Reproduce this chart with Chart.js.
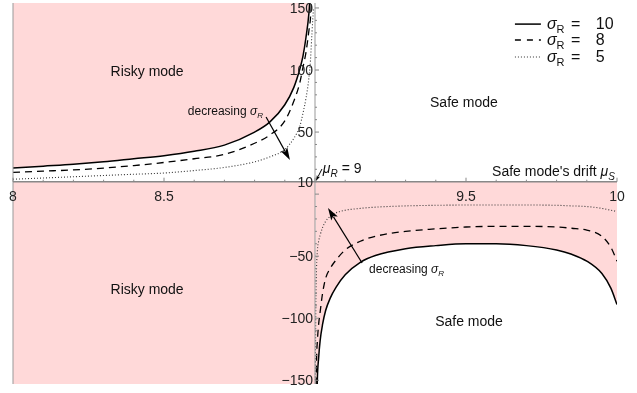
<!DOCTYPE html>
<html>
<head>
<meta charset="utf-8">
<script src="https://cdn.jsdelivr.net/npm/chart.js@4/dist/chart.umd.min.js"></script>
<style>
  html, body { margin: 0; padding: 0; background: #fff; }
  canvas { display: block; }
</style>
</head>
<body>
<canvas id="chart" width="637" height="393"></canvas>
<script>
// Left part: safe mode's drift below mu_R = 9
const upperMu      = [8, 8.1, 8.2, 8.3, 8.4, 8.5, 8.6, 8.7, 8.8, 8.85, 8.9, 8.93, 8.95, 8.96, 8.97, 8.98, 8.985, 8.99, 8.995];
const upperSigma10 = [21, 22.5, 24, 26, 28.5, 31, 34.5, 39.5, 50, 58, 72, 86, 101, 111, 126, 146, 165, 190, 230];
const upperSigma8  = [17.5, 18.5, 19.5, 21, 23, 25.5, 28.5, 32, 41, 47.5, 59, 75, 90, 102, 114, 132, 142, 165, 200];
const upperSigma5  = [12, 13, 14, 15, 16, 17, 19, 21.5, 26, 30, 36, 45, 55, 65, 77, 94, 108, 130, 150];

// Right part: safe mode's drift above mu_R = 9
const lowerMu      = [9.001, 9.003, 9.005, 9.008, 9.012, 9.017, 9.025, 9.035, 9.05, 9.07, 9.1, 9.15, 9.2, 9.3, 9.4, 9.5, 9.6, 9.7, 9.8, 9.85, 9.9, 9.95, 9.98, 10];
const lowerSigma10 = [-400, -250, -185, -148, -132, -118, -105, -94, -84, -75, -65, -55, -49.5, -44, -41.5, -40, -40, -41.5, -45, -48.5, -54, -64, -76, -89];
const lowerSigma8  = [-260, -175, -135, -118, -105, -95, -80, -68, -60, -53, -45, -38, -34, -30, -28, -26.5, -26, -26, -26.5, -27.5, -29, -34, -43, -54];
const lowerSigma5  = [-150, -85, -60, -45, -38, -33, -27, -22, -18, -15, -13, -11.5, -10.5, -9.5, -9, -8.8, -8.8, -8.8, -9, -9.5, -10, -11.5, -13, -14];

const riskyBandMu  = [8, 9];
const riskyBandTop = [10, 10];

const xTicks = [8, 8.5, 9.5, 10];
const yTicks = [150, 100, 50, 10, -50, -100, -150];
const legendLabels = ['10', '8', '5'];

const PINK = 'rgb(255,217,217)';
const FONT = '"Liberation Sans", Arial, sans-serif';

const pts = (xs, ys) => xs.map((x, i) => ({ x, y: ys[i] }));

const lineStyles = [
  { color: '#000', width: 1.5, dash: [] },
  { color: '#000', width: 1.3, dash: [7, 5] },
  { color: '#333', width: 1.1, dash: [1, 2] }
];

// draws text made of pieces: [text, kind], kind: '' normal, 'i' italic, 's' subscript, 'si' italic subscript
function rich(ctx, parts, x, y, size, align) {
  const fontFor = k => {
    const sub = k.indexOf('s') >= 0;
    const it  = k.indexOf('i') >= 0;
    return (it ? 'italic ' : '') + Math.round(sub ? size * 0.72 : size) + 'px ' + FONT;
  };
  let w = 0;
  parts.forEach(([t, k]) => { ctx.font = fontFor(k); w += ctx.measureText(t).width; });
  let cx = align === 'center' ? x - w / 2 : align === 'right' ? x - w : x;
  ctx.textAlign = 'left';
  ctx.textBaseline = 'alphabetic';
  parts.forEach(([t, k]) => {
    ctx.font = fontFor(k);
    const dy = k.indexOf('s') >= 0 ? size * 0.28 : 0;
    ctx.fillText(t, cx, y + dy);
    cx += ctx.measureText(t).width;
  });
}

function arrow(ctx, x1, y1, x2, y2, head) {
  const a = Math.atan2(y2 - y1, x2 - x1);
  ctx.beginPath();
  ctx.moveTo(x1, y1);
  ctx.lineTo(x2 - Math.cos(a) * head * 0.8, y2 - Math.sin(a) * head * 0.8);
  ctx.stroke();
  ctx.beginPath();
  ctx.moveTo(x2, y2);
  ctx.lineTo(x2 - head * Math.cos(a - 0.3), y2 - head * Math.sin(a - 0.3));
  ctx.lineTo(x2 - head * 0.75 * Math.cos(a), y2 - head * 0.75 * Math.sin(a));
  ctx.lineTo(x2 - head * Math.cos(a + 0.3), y2 - head * Math.sin(a + 0.3));
  ctx.closePath();
  ctx.fill();
}

const axesAndNotes = {
  id: 'axesAndNotes',
  afterDatasetsDraw(chart) {
    const ctx = chart.ctx;
    const xs = chart.scales.x, ys = chart.scales.y;
    const area = chart.chartArea;
    const X = v => xs.getPixelForValue(v);
    const Y = v => ys.getPixelForValue(v);
    const ax = X(9), ay = Y(10);
    ctx.save();

    // frame line on the left and the two axes
    ctx.strokeStyle = '#999';
    ctx.lineWidth = 1;
    ctx.beginPath();
    ctx.moveTo(X(8), area.top); ctx.lineTo(X(8), area.bottom);
    ctx.moveTo(ax, area.top); ctx.lineTo(ax, area.bottom);
    ctx.stroke();
    ctx.strokeStyle = '#888';
    ctx.lineWidth = 1.4;
    ctx.beginPath();
    ctx.moveTo(X(8), ay); ctx.lineTo(X(10), ay);
    ctx.stroke();

    // ticks
    ctx.lineWidth = 1;
    ctx.strokeStyle = '#888';
    ctx.beginPath();
    for (let i = 0; i <= 20; i++) {
      const v = 8 + i * 0.1;
      const len = (i % 5 === 0) ? 4 : 2;
      ctx.moveTo(X(v), ay); ctx.lineTo(X(v), ay - len);
    }
    for (let v = -150; v <= 150; v += 10) {
      const len = (v % 50 === 0) ? 4 : 2;
      ctx.moveTo(ax, Y(v)); ctx.lineTo(ax + len, Y(v));
    }
    ctx.stroke();

    // tick labels
    ctx.fillStyle = '#222';
    ctx.font = '14px ' + FONT;
    ctx.textBaseline = 'middle';
    ctx.textAlign = 'right';
    yTicks.forEach(v => ctx.fillText(String(v).replace('-', '\u2212'), ax - 2, Y(v) + 1));
    ctx.textAlign = 'center';
    xTicks.forEach(v => ctx.fillText(String(v), X(v), ay + 15));

    // region labels
    ctx.fillStyle = '#111';
    ctx.font = '14px ' + FONT;
    ctx.textAlign = 'center';
    ctx.textBaseline = 'middle';
    ctx.fillText('Risky mode', X(8.444), Y(98.4));
    ctx.fillText('Risky mode', X(8.444), Y(-77.3));
    ctx.fillText('Safe mode', X(9.493), Y(73.4));
    ctx.fillText('Safe mode', X(9.51), Y(-103));

    // axis annotations
    rich(ctx, [['Safe mode\'s drift ', ''], ['\u03bc', 'i'], ['S', 'si']], X(9.993), Y(14.6), 14, 'right');
    rich(ctx, [['\u03bc', 'i'], ['R', 'si'], [' = 9', '']], X(9.026), Y(17), 14, 'left');
    ctx.strokeStyle = '#000';
    ctx.fillStyle = '#000';
    ctx.lineWidth = 1;
    arrow(ctx, X(9.023), Y(20.2), X(9.003), Y(10.6), 6);

    // decreasing sigma notes
    ctx.fillStyle = '#111';
    rich(ctx, [['decreasing ', ''], ['\u03c3', 'i'], ['R', 'si']], X(8.579), Y(63.7), 11.5, 'left');
    rich(ctx, [['decreasing ', ''], ['\u03c3', 'i'], ['R', 'si']], X(9.179), Y(-63.6), 11.5, 'left');
    ctx.fillStyle = '#000';
    ctx.lineWidth = 1.2;
    arrow(ctx, X(8.838), Y(62.1), X(8.917), Y(27.5), 13);
    arrow(ctx, X(9.156), Y(-55.5), X(9.043), Y(-11.2), 13);

    // legend
    const rows = [137, 124.2, 110.5];
    legendLabels.forEach((lab, i) => {
      const st = lineStyles[i];
      const y = Y(rows[i]);
      ctx.strokeStyle = st.color;
      ctx.lineWidth = st.width;
      ctx.setLineDash(i === 1 ? [6, 6] : st.dash);
      ctx.beginPath();
      ctx.moveTo(X(9.662), y); ctx.lineTo(X(9.748), y);
      ctx.stroke();
      ctx.setLineDash([]);
      ctx.fillStyle = '#111';
      rich(ctx, [['\u03c3', 'i'], ['R', 's']], X(9.768), y + 5, 15.5, 'left');
      rich(ctx, [['=', '']], X(9.848), y + 5, 15.5, 'left');
      rich(ctx, [[lab, '']], X(9.93), y + 5, 15.5, 'left');
    });
    ctx.restore();
  }
};

function curve(xs, ys, st, fill) {
  return {
    data: pts(xs, ys),
    borderColor: st.color,
    borderWidth: st.width,
    borderDash: st.dash,
    backgroundColor: PINK,
    fill: fill,
    pointRadius: 0,
    cubicInterpolationMode: 'monotone'
  };
}

new Chart(document.getElementById('chart'), {
  type: 'line',
  data: {
    datasets: [
      curve(upperMu, upperSigma10, lineStyles[0], 'end'),
      curve(upperMu, upperSigma8, lineStyles[1], false),
      curve(upperMu, upperSigma5, lineStyles[2], false),
      curve(lowerMu, lowerSigma10, lineStyles[0], { value: 10 }),
      curve(lowerMu, lowerSigma8, lineStyles[1], false),
      curve(lowerMu, lowerSigma5, lineStyles[2], false),
      {
        data: pts(riskyBandMu, riskyBandTop),
        borderWidth: 0,
        borderColor: 'rgba(0,0,0,0)',
        backgroundColor: PINK,
        fill: 'start',
        pointRadius: 0
      }
    ]
  },
  options: {
    responsive: false,
    animation: false,
    devicePixelRatio: 1,
    layout: { padding: { left: 13, right: 20, top: 3, bottom: 9 } },
    scales: {
      x: { type: 'linear', min: 8, max: 10, display: false },
      y: { type: 'linear', min: -153, max: 154, display: false }
    },
    plugins: {
      legend: { display: false },
      tooltip: { enabled: false },
      filler: { drawTime: 'beforeDatasetsDraw' }
    }
  },
  plugins: [axesAndNotes]
});
</script>
</body>
</html>
